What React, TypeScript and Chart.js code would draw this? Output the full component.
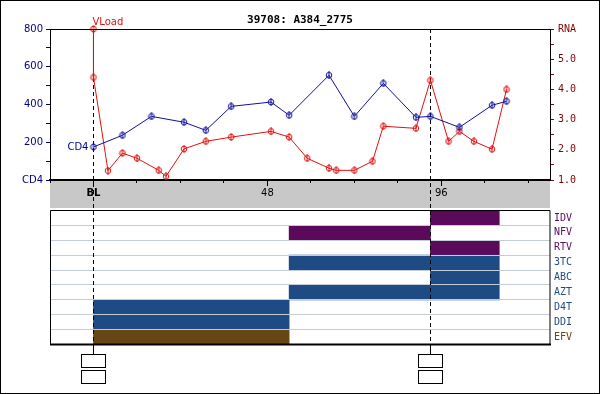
import React, { useEffect, useRef } from 'react';
import { Chart, registerables } from 'chart.js';
Chart.register(...registerables);

// ---------- data ----------
const TITLE = '39708: A384_2775';
const WEEK_MIN = -12;
const WEEK_MAX = 126;
const WEEK_TICKS = [-12, 0, 12, 24, 36, 48, 60, 72, 84, 96, 108, 120];
const WEEK_LABELS: Record<number, string> = { 0: 'BL', 48: '48', 96: '96' };

const CD4_TICKS = [0, 100, 200, 300, 400, 500, 600, 700, 800];
const CD4_LABELS: Record<number, string> = { 0: 'CD4', 200: '200', 400: '400', 600: '600', 800: '800' };
const RNA_TICKS = [1, 1.5, 2, 2.5, 3, 3.5, 4, 4.5, 5, 5.5, 6];
const RNA_LABELS: Record<number, string> = { 1: '1.0', 2: '2.0', 3: '3.0', 4: '4.0', 5: '5.0', 6: 'RNA' };

const CD4_WEEKS = [0, 8, 16, 25, 31, 38, 49, 54, 65, 72, 80, 89, 93, 101, 110, 114];
const CD4_VALUES = [175, 237, 337, 306, 263, 390, 413, 343, 555, 337, 512, 332, 337, 279, 396, 417];

const RNA_WEEKS = [0, 0, 4, 8, 12, 18, 20, 25, 31, 38, 49, 54, 59, 65, 67, 72, 77, 80, 89, 93, 98, 101, 105, 110, 114];
const RNA_VALUES = [6.0, 4.4, 1.31, 1.89, 1.72, 1.32, 1.12, 2.03, 2.28, 2.42, 2.61, 2.42, 1.72, 1.39, 1.32, 1.32, 1.62, 2.78, 2.71, 4.3, 2.28, 2.61, 2.28, 2.02, 4.0];

const EVENT_WEEKS = [0, 93];

const DRUGS = ['IDV', 'NFV', 'RTV', '3TC', 'ABC', 'AZT', 'D4T', 'DDI', 'EFV'];
const DRUG_CLASS = ['PI', 'PI', 'PI', 'NRTI', 'NRTI', 'NRTI', 'NRTI', 'NRTI', 'NNRTI'];
const DRUG_START = [93, 54, 93, 54, 93, 54, 0, 0, 0];
const DRUG_END = [112, 93, 112, 112, 112, 112, 54, 54, 54];

// ---------- styles ----------
const CLASS_COLOR: Record<string, string> = { PI: '#5b0a5b', NRTI: '#1f4b85', NNRTI: '#684515' };
const CD4_COLOR = '#10109a';
const RNA_COLOR = '#e01010';
const NAVY = '#00007f';
const DARK_RED = '#800000';
const SANS = 'DejaVu Sans';
const MONO = 'DejaVu Sans Mono';
const PANEL_TOP_IN_B = 10.5;
const B_OFFSET = 200;
const PANEL_BOTTOM = 344.5;

function makeMarker(color: string) {
  const c = document.createElement('canvas');
  c.width = 8;
  c.height = 8;
  const g = c.getContext('2d')!;
  g.strokeStyle = color;
  g.lineWidth = 1;
  g.beginPath();
  g.arc(4, 4, 2.8, 0, Math.PI * 2);
  g.stroke();
  g.beginPath();
  g.moveTo(4, 0);
  g.lineTo(4, 8);
  g.stroke();
  return c;
}

export default function App() {
  const refA = useRef<HTMLCanvasElement>(null);
  const refB = useRef<HTMLCanvasElement>(null);

  useEffect(() => {
    const decor = {
      id: 'decor',
      beforeDraw(chart: any) {
        const ctx = chart.ctx;
        const a = chart.chartArea;
        ctx.save();
        ctx.fillStyle = '#c8c8c8';
        ctx.fillRect(a.left, a.bottom + 1, a.right - a.left, 27);
        ctx.restore();
      },
      beforeDatasetsDraw(chart: any) {
        const ctx = chart.ctx;
        const a = chart.chartArea;
        const xs = chart.scales.x;
        ctx.save();
        ctx.strokeStyle = '#000';
        ctx.lineWidth = 1;
        EVENT_WEEKS.forEach((w) => {
          const px = Math.round(xs.getPixelForValue(w)) + 0.5;
          ctx.setLineDash([4, 3]);
          ctx.beginPath();
          ctx.moveTo(px, a.top);
          ctx.lineTo(px, PANEL_BOTTOM);
          ctx.stroke();
        });
        ctx.restore();
      },
      afterDraw(chart: any) {
        const ctx = chart.ctx;
        const a = chart.chartArea;
        const xs = chart.scales.x;
        const ys = chart.scales.y;
        ctx.save();
        ctx.strokeStyle = '#000';
        ctx.lineWidth = 1;
        // top border of plot
        ctx.beginPath();
        ctx.moveTo(a.left, a.top + 0.5);
        ctx.lineTo(a.right + 1, a.top + 0.5);
        ctx.stroke();
        // long ticks at labelled weeks
        Object.keys(WEEK_LABELS).forEach((k) => {
          const px = Math.round(xs.getPixelForValue(Number(k))) + 0.5;
          ctx.beginPath();
          ctx.moveTo(px, a.bottom);
          ctx.lineTo(px, a.bottom + 6);
          ctx.stroke();
        });
        // connectors and boxes
        EVENT_WEEKS.forEach((w) => {
          const px = Math.round(xs.getPixelForValue(w)) + 0.5;
          ctx.beginPath();
          ctx.moveTo(px, PANEL_BOTTOM);
          ctx.lineTo(px, 354.5);
          ctx.stroke();
          [354.5, 370.5].forEach((by) => {
            ctx.fillStyle = '#fff';
            ctx.fillRect(px - 12, by, 24, 13);
            ctx.strokeRect(px - 12, by, 24, 13);
          });
        });
        // title
        ctx.fillStyle = '#000';
        ctx.font = `bold 11px "${MONO}"`;
        ctx.textAlign = 'center';
        ctx.textBaseline = 'middle';
        ctx.fillText(TITLE, 300, 20.5);
        // VLoad label
        ctx.fillStyle = RNA_COLOR;
        ctx.font = `10px "${SANS}"`;
        ctx.textAlign = 'left';
        ctx.fillText('VLoad', xs.getPixelForValue(0) - 1, 22.5);
        // CD4 label beside first point
        ctx.fillStyle = NAVY;
        ctx.textAlign = 'right';
        ctx.fillText('CD4', xs.getPixelForValue(CD4_WEEKS[0]) - 5, ys.getPixelForValue(CD4_VALUES[0]));
        // outer frame
        ctx.strokeStyle = '#000';
        ctx.strokeRect(0.5, 0.5, 599, 393);
        ctx.restore();
      },
    };

    const chartA = new Chart(refA.current!, {
      type: 'line',
      data: {
        datasets: [
          {
            label: 'CD4',
            data: CD4_WEEKS.map((w, i) => ({ x: w, y: CD4_VALUES[i] })),
            yAxisID: 'y',
            borderColor: CD4_COLOR,
            backgroundColor: CD4_COLOR,
            borderWidth: 1,
            pointStyle: makeMarker(CD4_COLOR) as any,
            pointRadius: 4,
            clip: false as any,
          },
          {
            label: 'RNA',
            data: RNA_WEEKS.map((w, i) => ({ x: w, y: RNA_VALUES[i] })),
            yAxisID: 'y1',
            borderColor: RNA_COLOR,
            backgroundColor: RNA_COLOR,
            borderWidth: 1,
            pointStyle: makeMarker(RNA_COLOR) as any,
            pointRadius: 4,
            clip: false as any,
          },
        ],
      },
      options: {
        responsive: false,
        animation: false,
        layout: { padding: { top: 29, left: 10, right: 10, bottom: 184 } },
        plugins: { legend: { display: false }, tooltip: { enabled: false } },
        scales: {
          x: {
            type: 'linear',
            min: WEEK_MIN,
            max: WEEK_MAX,
            position: 'bottom',
            afterBuildTicks: (s: any) => {
              s.ticks = WEEK_TICKS.map((v) => ({ value: v }));
            },
            afterFit: (s: any) => {
              s.height = 30;
            },
            grid: { drawOnChartArea: false, tickLength: 3, color: '#000', tickColor: '#000' },
            border: { color: '#000', width: 2 },
            ticks: {
              autoSkip: false,
              maxRotation: 0,
              padding: 4,
              color: '#000',
              font: (c: any) =>
                c.tick && c.tick.value === 0
                  ? { family: SANS, size: 10, weight: 'bold' }
                  : { family: SANS, size: 10 },
              callback: (v: any) => WEEK_LABELS[Number(v)] ?? '',
            },
          },
          y: {
            type: 'linear',
            position: 'left',
            min: 0,
            max: 800,
            afterBuildTicks: (s: any) => {
              s.ticks = CD4_TICKS.map((v) => ({ value: v }));
            },
            afterFit: (s: any) => {
              s.width = 40;
            },
            grid: { drawOnChartArea: false, tickLength: 4, tickColor: NAVY },
            border: { color: '#000' },
            ticks: {
              autoSkip: false,
              padding: 3,
              color: NAVY,
              font: { family: SANS, size: 10 },
              callback: (v: any) => CD4_LABELS[Number(v)] ?? '',
            },
          },
          y1: {
            type: 'linear',
            position: 'right',
            min: 1,
            max: 6,
            afterBuildTicks: (s: any) => {
              s.ticks = RNA_TICKS.map((v) => ({ value: v }));
            },
            afterFit: (s: any) => {
              s.width = 40;
            },
            grid: { drawOnChartArea: false, tickLength: 4, tickColor: DARK_RED },
            border: { color: '#000' },
            ticks: {
              autoSkip: false,
              padding: 4,
              color: DARK_RED,
              font: { family: MONO, size: 10 },
              callback: (v: any) => RNA_LABELS[Number(v)] ?? '',
            },
          },
        },
      },
      plugins: [decor],
    });

    const panelFrame = {
      id: 'panelFrame',
      afterDraw(chart: any) {
        const ctx = chart.ctx;
        const a = chart.chartArea;
        ctx.save();
        ctx.strokeStyle = '#000';
        ctx.lineWidth = 1;
        ctx.beginPath();
        ctx.moveTo(a.left + 0.5, a.bottom);
        ctx.lineTo(a.left + 0.5, a.top);
        ctx.lineTo(a.right, a.top);
        ctx.lineTo(a.right, a.bottom);
        ctx.stroke();
        ctx.lineWidth = 2;
        ctx.beginPath();
        ctx.moveTo(a.left, a.bottom);
        ctx.lineTo(a.right + 1, a.bottom);
        ctx.stroke();
        ctx.restore();
      },
    };

    const chartB = new Chart(refB.current!, {
      type: 'bar',
      data: {
        labels: DRUGS,
        datasets: [
          {
            data: DRUGS.map((_, i) => [DRUG_START[i], DRUG_END[i]]) as any,
            backgroundColor: DRUGS.map((_, i) => CLASS_COLOR[DRUG_CLASS[i]]),
            barPercentage: 1,
            categoryPercentage: 1,
            borderWidth: 0,
          },
        ],
      },
      options: {
        indexAxis: 'y',
        responsive: false,
        animation: false,
        layout: { padding: { top: PANEL_TOP_IN_B, left: 50, right: 0, bottom: 160 - (PANEL_BOTTOM - B_OFFSET) } },
        plugins: { legend: { display: false }, tooltip: { enabled: false } },
        scales: {
          x: { type: 'linear', min: WEEK_MIN, max: WEEK_MAX, display: false },
          y: {
            type: 'category',
            position: 'right',
            afterFit: (s: any) => {
              s.width = 50;
            },
            grid: { color: '#c4ccd6', drawTicks: false, offset: true, z: 1 },
            border: { display: false },
            ticks: {
              autoSkip: false,
              padding: 4,
              color: (c: any) => CLASS_COLOR[DRUG_CLASS[c.index]] ?? '#000',
              font: { family: MONO, size: 10 },
            },
          },
        },
      },
      plugins: [panelFrame],
    });

    return () => {
      chartA.destroy();
      chartB.destroy();
    };
  }, []);

  return (
    <div style={{ position: 'absolute', left: 0, top: 0, width: 600, height: 394, background: '#fff' }}>
      <canvas ref={refB} width={600} height={160} style={{ position: 'absolute', left: 0, top: B_OFFSET }} />
      <canvas ref={refA} width={600} height={394} style={{ position: 'absolute', left: 0, top: 0 }} />
    </div>
  );
}
